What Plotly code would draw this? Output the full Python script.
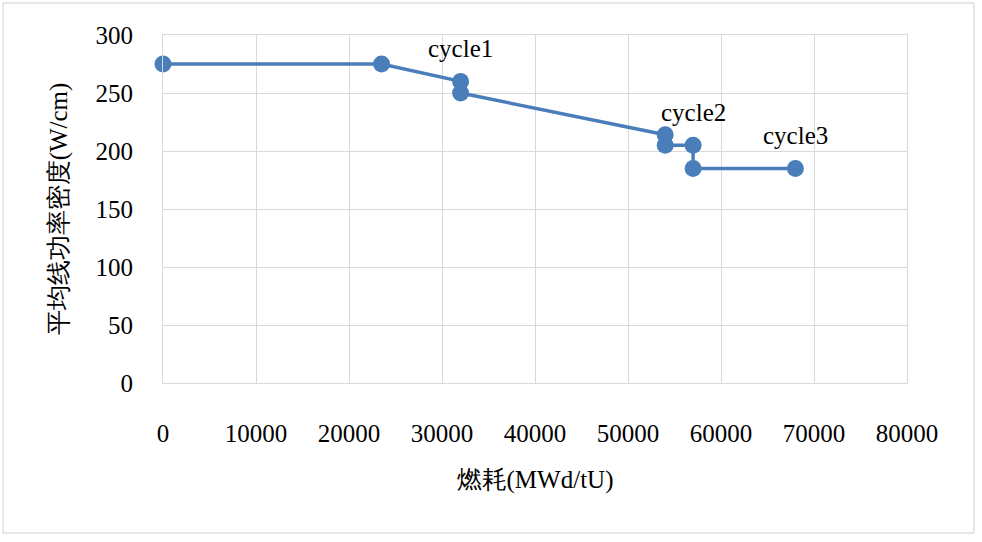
import plotly.graph_objects as go

# burnup (MWd/tU) vs average linear power density (W/cm)
burnup = [0, 23500, 32000, 32000, 54000, 54000, 57000, 57000, 68000]
power = [275, 275, 260, 250, 214, 205, 205, 185, 185]

cycle_names = ['cycle1', 'cycle2', 'cycle3']
cycle_x = [32000, 57000, 68000]
cycle_y = [260, 205, 185]

BLUE = '#4a7ebb'
GRID = '#d9d9d9'
FONT = 'Liberation Serif, Times New Roman, serif'

fig = go.Figure()

fig.add_trace(go.Scatter(
    x=burnup,
    y=power,
    mode='lines+markers',
    line=dict(color=BLUE, width=3.5),
    marker=dict(color=BLUE, size=17),
    showlegend=False,
    cliponaxis=False
))

for name, cx, cy in zip(cycle_names, cycle_x, cycle_y):
    fig.add_annotation(
        x=cx, y=cy, text=name, showarrow=False,
        yshift=33, font=dict(size=25, color='black', family=FONT)
    )

# outer frame around the whole chart
fig.add_shape(
    type='rect', xref='paper', yref='paper',
    x0=-0.215, x1=1.090, y0=-0.431, y1=1.092,
    line=dict(color='#cfcfcf', width=1)
)

fig.update_layout(
    width=982, height=542,
    margin=dict(l=163, r=75, t=35, b=159),
    plot_bgcolor='white',
    paper_bgcolor='white',
    font=dict(family=FONT, size=25, color='black'),
)

fig.update_xaxes(
    range=[0, 80000], dtick=10000, tick0=0, tickformat='d',
    showgrid=True, gridcolor=GRID, gridwidth=1,
    zeroline=False, showline=True, linecolor=GRID,
    ticks='', ticklabelstandoff=28,
    tickfont=dict(size=25, family=FONT),
    title=dict(text='燃耗(MWd/tU)', font=dict(size=25, family=FONT), standoff=24),
    mirror=True
)
fig.update_yaxes(
    range=[0, 300], dtick=50, tick0=0, tickformat='d',
    showgrid=True, gridcolor=GRID, gridwidth=1,
    zeroline=False, showline=True, linecolor=GRID,
    ticks='', ticklabelstandoff=24,
    tickfont=dict(size=25, family=FONT),
    title=dict(text='平均线功率密度(W/cm)', font=dict(size=25, family=FONT), standoff=20),
    mirror=True
)

fig.write_html("out.html", config={'displayModeBar': False},
               post_script="document.body.style.margin='0';")
